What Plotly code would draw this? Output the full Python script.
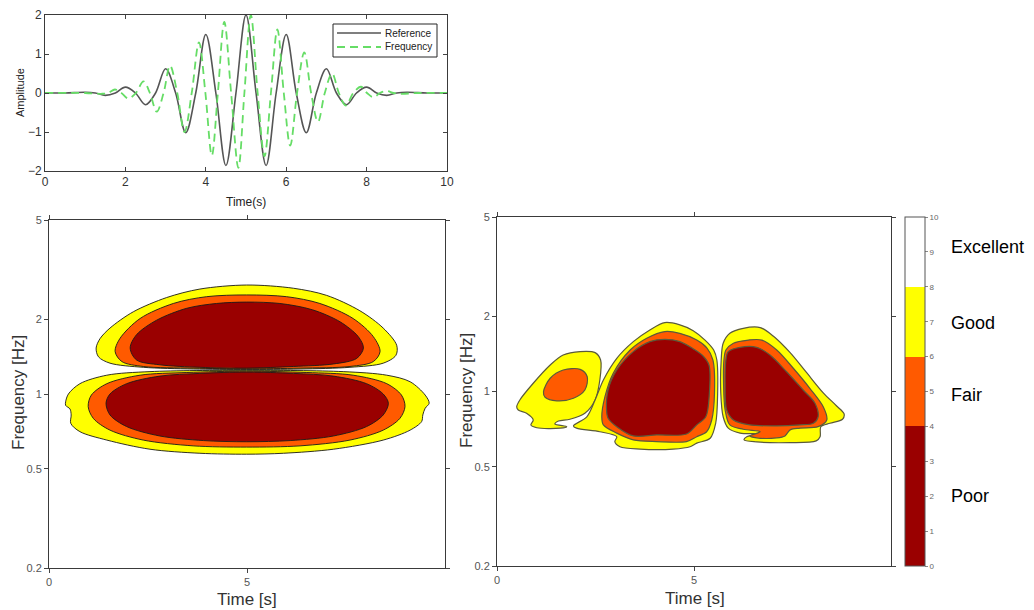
import plotly.graph_objects as go

# ---------------- data ----------------
# top panel: time signals
ref_t = [0, 0.5, 1.0, 1.25, 1.5, 1.75, 2.0, 2.25, 2.5, 2.75, 3.0, 3.25, 3.5, 3.75, 4.0, 4.25, 4.5, 4.75,
         5.0, 5.25, 5.5, 5.75, 6.0, 6.25, 6.5, 6.75, 7.0, 7.25, 7.5, 7.75, 8.0, 8.25, 8.5, 8.75, 9.0, 9.5, 10]
ref_a = [0, 0, 0.02, 0, -0.06, 0, 0.15, 0, -0.30, 0, 0.62, 0, -1.02, 0, 1.50, 0, -1.86, 0,
         2.00, 0, -1.86, 0, 1.50, 0, -1.02, 0, 0.62, 0, -0.30, 0, 0.15, 0, -0.06, 0, 0.02, 0, 0]
freq_t = [0, 1.0, 1.40, 1.57, 1.74, 1.90, 2.07, 2.26, 2.45, 2.61, 2.78, 2.95, 3.11, 3.29, 3.47, 3.65,
          3.83, 3.99, 4.15, 4.30, 4.46, 4.63, 4.81, 4.96, 5.12, 5.29, 5.46, 5.62, 5.78, 5.94, 6.10,
          6.27, 6.45, 6.62, 6.79, 6.96, 7.14, 7.31, 7.48, 7.67, 7.86, 8.01, 8.17, 8.33, 8.50, 8.67,
          8.85, 9.3, 10]
freq_a = [0, 0, -0.02, 0, 0.09, 0, -0.14, 0, 0.30, 0, -0.48, 0, 0.70, 0, -1.00, 0,
          1.30, 0, -1.60, 0, 1.82, 0, -1.92, 0, 2.00, 0, -1.62, 0, 1.63, 0, -1.35,
          0, 1.04, 0, -0.74, 0, 0.50, 0, -0.32, 0, 0.16, 0, -0.11, 0, 0.05, 0,
          -0.02, 0, 0]
series_names = ["Reference", "Frequency"]

# left panel contour boundaries (time [s], frequency [Hz])
a_top_good_t = [1.19, 1.29, 1.54, 2.13, 2.97, 3.81, 4.99, 6.17, 7.01, 7.85, 8.44, 8.78, 8.76, 8.44, 7.60, 6.34, 4.99, 3.64, 2.38, 1.54, 1.25]
a_top_good_f = [1.53, 1.67, 1.84, 2.14, 2.44, 2.64, 2.74, 2.66, 2.49, 2.16, 1.84, 1.57, 1.43, 1.33, 1.28, 1.26, 1.255, 1.26, 1.28, 1.33, 1.41]
a_top_fair_t = [1.67, 1.79, 2.30, 3.14, 3.98, 4.99, 6.00, 6.84, 7.68, 8.19, 8.36, 8.19, 7.60, 6.34, 4.99, 3.64, 2.38, 1.84]
a_top_fair_f = [1.48, 1.67, 2.01, 2.31, 2.46, 2.50, 2.46, 2.31, 2.01, 1.70, 1.48, 1.35, 1.29, 1.27, 1.262, 1.27, 1.29, 1.35]
a_top_poor_t = [2.05, 2.21, 2.72, 3.48, 4.23, 4.99, 5.83, 6.65, 7.35, 7.81, 7.94, 7.77, 7.18, 6.17, 4.99, 3.81, 2.80, 2.21]
a_top_poor_f = [1.53, 1.73, 1.98, 2.21, 2.31, 2.34, 2.31, 2.18, 1.95, 1.70, 1.53, 1.39, 1.32, 1.29, 1.27, 1.28, 1.31, 1.37]
a_bot_good_t = [0.42, 0.49, 0.78, 1.46, 2.55, 4.99, 7.43, 8.53, 9.12, 9.50, 9.60, 9.50, 9.44, 9.41, 9.12, 8.44, 7.18, 5.92, 4.99, 3.81, 2.55, 1.46, 0.78, 0.55, 0.56, 0.53, 0.42]
a_bot_good_f = [0.93, 1.00, 1.10, 1.19, 1.23, 1.245, 1.23, 1.19, 1.12, 0.99, 0.918, 0.877, 0.824, 0.775, 0.716, 0.653, 0.600, 0.578, 0.573, 0.578, 0.600, 0.653, 0.706, 0.762, 0.824, 0.871, 0.90]
a_bot_fair_t = [0.99, 1.07, 1.46, 2.30, 3.48, 4.99, 6.51, 7.68, 8.53, 8.90, 8.99, 8.86, 8.44, 7.60, 6.34, 4.99, 3.64, 2.38, 1.54, 1.12]
a_bot_fair_f = [0.89, 0.99, 1.10, 1.19, 1.22, 1.235, 1.22, 1.19, 1.10, 0.99, 0.89, 0.798, 0.716, 0.653, 0.619, 0.612, 0.619, 0.653, 0.716, 0.798]
a_bot_poor_t = [1.44, 1.54, 1.96, 2.80, 3.81, 4.99, 6.17, 7.18, 8.02, 8.44, 8.57, 8.44, 8.02, 7.18, 6.09, 4.99, 3.90, 2.80, 1.96, 1.54]
a_bot_poor_f = [0.918, 1.00, 1.10, 1.18, 1.21, 1.225, 1.21, 1.18, 1.10, 1.00, 0.918, 0.824, 0.74, 0.678, 0.650, 0.643, 0.650, 0.678, 0.74, 0.824]

# right panel contour boundaries (time [s], frequency [Hz])
b1_good_t = [0.50, 0.58, 0.92, 1.35, 1.68, 2.11, 2.49, 2.63, 2.61, 2.49, 2.23, 1.85, 1.56, 1.47, 1.77, 1.60, 1.01, 0.86, 0.92, 0.75, 0.54]
b1_good_f = [0.869, 0.925, 1.079, 1.277, 1.400, 1.445, 1.431, 1.337, 1.112, 0.925, 0.818, 0.774, 0.762, 0.741, 0.723, 0.713, 0.716, 0.735, 0.769, 0.818, 0.843]
b1_fair_t = [1.18, 1.35, 1.68, 2.11, 2.29, 2.23, 1.94, 1.52, 1.22]
b1_fair_f = [0.998, 1.130, 1.219, 1.227, 1.146, 1.014, 0.940, 0.918, 0.948]
b2_good_t = [1.94, 2.28, 2.49, 2.70, 3.04, 3.46, 3.88, 4.26, 4.64, 4.98, 5.28, 5.50, 5.58, 5.60, 5.55, 5.41, 5.07, 4.90, 4.47, 3.63, 3.12, 2.99, 3.04, 2.61, 2.02]
b2_good_f = [0.728, 0.792, 0.925, 1.112, 1.358, 1.584, 1.765, 1.888, 1.849, 1.753, 1.607, 1.466, 1.337, 0.984, 0.746, 0.650, 0.621, 0.601, 0.588, 0.588, 0.601, 0.630, 0.659, 0.690, 0.713]
b2_fair_t = [2.66, 2.74, 2.95, 3.38, 3.80, 4.26, 4.64, 5.07, 5.33, 5.48, 5.52, 5.45, 5.32, 5.07, 4.81, 4.05, 3.46, 3.04, 2.70]
b2_fair_f = [0.792, 0.953, 1.183, 1.466, 1.634, 1.738, 1.710, 1.607, 1.493, 1.337, 0.984, 0.769, 0.690, 0.659, 0.630, 0.630, 0.640, 0.681, 0.735]
b2_poor_t = [2.78, 2.82, 3.04, 3.46, 3.88, 4.26, 4.64, 5.03, 5.23, 5.38, 5.39, 5.30, 5.07, 4.81, 4.05, 3.46, 3.04, 2.82]
b2_poor_f = [0.843, 1.014, 1.219, 1.445, 1.584, 1.618, 1.584, 1.466, 1.387, 1.277, 0.984, 0.792, 0.735, 0.676, 0.670, 0.664, 0.723, 0.782]
b3_good_t = [5.69, 5.74, 5.91, 6.25, 6.68, 7.01, 7.44, 7.86, 8.28, 8.62, 8.81, 8.77, 8.45, 8.22, 8.20, 8.10, 7.44, 6.59, 6.27, 6.34, 6.63, 6.17, 5.87, 5.74, 5.68]
b3_good_f = [1.337, 1.560, 1.710, 1.791, 1.803, 1.668, 1.431, 1.189, 0.988, 0.875, 0.813, 0.774, 0.746, 0.723, 0.659, 0.634, 0.624, 0.628, 0.640, 0.659, 0.676, 0.681, 0.713, 0.792, 0.984]
b3_fair_t = [5.76, 5.81, 6.00, 6.38, 6.72, 7.10, 7.52, 7.94, 8.28, 8.37, 8.15, 7.69, 7.44, 7.31, 7.10, 6.59, 6.42, 6.68, 6.25, 5.91, 5.79, 5.75]
b3_fair_f = [1.337, 1.466, 1.560, 1.607, 1.607, 1.466, 1.239, 1.030, 0.869, 0.769, 0.723, 0.713, 0.702, 0.664, 0.652, 0.652, 0.664, 0.690, 0.706, 0.735, 0.843, 1.079]
b3_poor_t = [5.81, 5.87, 6.17, 6.59, 6.93, 7.35, 7.77, 8.07, 8.15, 8.03, 7.69, 7.10, 6.42, 6.00, 5.83, 5.79]
b3_poor_f = [1.337, 1.445, 1.503, 1.503, 1.400, 1.200, 1.014, 0.898, 0.792, 0.746, 0.735, 0.728, 0.735, 0.769, 0.843, 1.079]

# colour levels
cb_levels = [0, 4, 6, 8, 10]
cb_colors = ["#9a0000", "#ff5a00", "#ffff00", "#ffffff"]
cb_ticks = list(range(0, 11))
quality_labels = ["Poor", "Fair", "Good", "Excellent"]
freq_ticks = [0.2, 0.5, 1, 2, 5]
freq_minor = [0.3, 0.4, 0.6, 0.7, 0.8, 0.9, 3, 4]

left_shapes = [(a_top_good_t, a_top_good_f, 2), (a_top_fair_t, a_top_fair_f, 1), (a_top_poor_t, a_top_poor_f, 0),
               (a_bot_good_t, a_bot_good_f, 2), (a_bot_fair_t, a_bot_fair_f, 1), (a_bot_poor_t, a_bot_poor_f, 0)]
right_shapes = [(b1_good_t, b1_good_f, 2), (b1_fair_t, b1_fair_f, 1),
                (b2_good_t, b2_good_f, 2), (b2_fair_t, b2_fair_f, 1), (b2_poor_t, b2_poor_f, 0),
                (b3_good_t, b3_good_f, 2), (b3_fair_t, b3_fair_f, 1), (b3_poor_t, b3_poor_f, 0)]

FONT = "Liberation Sans, Arial, sans-serif"
W, H = 1034, 610
OFF = 8  # page body margin in which the figure is placed

def px(x):
    return (x - OFF) / W

def py(y):
    return 1 - (y - OFF) / H

fig = go.Figure()

REF_LINE = dict(color="#555555", width=1.6)
FREQ_LINE = dict(color="#66dd66", width=1.8, dash="8px,5px")

# top panel
fig.add_trace(go.Scatter(x=ref_t, y=ref_a, mode="lines", name=series_names[0], showlegend=False,
                         line=dict(shape="spline", smoothing=1.0, **REF_LINE),
                         xaxis="x", yaxis="y"))
fig.add_trace(go.Scatter(x=freq_t, y=freq_a, mode="lines", name=series_names[1], showlegend=False,
                         line=dict(shape="spline", smoothing=1.0, **FREQ_LINE),
                         xaxis="x", yaxis="y"))

def add_shapes(shapes, xa, ya, outline, lw):
    for t, f, lev in shapes:
        fig.add_trace(go.Scatter(x=t + t[:1], y=f + f[:1], mode="lines", fill="toself",
                                 fillcolor=cb_colors[lev],
                                 line=dict(color=outline, width=lw, shape="spline", smoothing=0.9),
                                 hoverinfo="skip", showlegend=False, xaxis=xa, yaxis=ya))

add_shapes(left_shapes, "x2", "y2", "#1a1a1a", 0.9)
add_shapes(right_shapes, "x3", "y4", "#5a5a3c", 1.2)

# colour bar (dummy heatmap outside the visible range)
cs = []
for i, c in enumerate(cb_colors):
    cs.append([cb_levels[i] / 10, c])
    cs.append([cb_levels[i + 1] / 10, c])
fig.add_trace(go.Heatmap(x=[20, 21], y=[0.05], z=[[0, 10]], zmin=0, zmax=10, colorscale=cs,
                         xaxis="x3", yaxis="y4", hoverinfo="skip",
                         colorbar=dict(x=px(905), xanchor="left", y=py(391.5), yanchor="middle",
                                       len=349 / H, lenmode="fraction", thickness=20,
                                       tickvals=cb_ticks, ticks="outside", ticklen=3,
                                       tickcolor="#888888", tickfont=dict(size=8, color="#666666", family=FONT),
                                       outlinewidth=1, outlinecolor="#555555", xpad=0, ypad=0)))

axis_common = dict(showgrid=False, zeroline=False, showline=True, linecolor="#3a3a3a", linewidth=1,
                   automargin=False)

log_rng = [-0.69897, 0.69897]
fig.update_layout(
    width=W, height=H, margin=dict(l=0, r=0, t=0, b=0, autoexpand=False),
    paper_bgcolor="white", plot_bgcolor="white",
    font=dict(family=FONT, color="#333333"),
    showlegend=False,
    xaxis=dict(domain=[px(45), px(447)], anchor="y", range=[0, 10], tickvals=[0, 2, 4, 6, 8, 10],
               ticks="inside", ticklen=4, mirror="allticks", tickfont=dict(size=12, color="#333333"),
               **axis_common),
    yaxis=dict(domain=[py(171), py(15)], anchor="x", range=[-2, 2], tickvals=[-2, -1, 0, 1, 2],
               ticks="inside", ticklen=4, mirror="allticks", tickfont=dict(size=12, color="#333333"),
               **axis_common),
    xaxis2=dict(domain=[px(49), px(445)], anchor="y2", range=[0, 10], tickvals=[0, 5],
                ticks="outside", ticklen=4, mirror="ticks", tickfont=dict(size=11, color="#555555"),
                **axis_common),
    yaxis2=dict(domain=[py(568), py(220)], anchor="x2", type="log", range=log_rng, tickvals=freq_ticks,
                ticktext=[str(v) for v in freq_ticks],
                ticks="outside", ticklen=4, mirror="ticks", tickfont=dict(size=11, color="#555555"),
                **axis_common),
    yaxis3=dict(overlaying="y2", anchor="x2", side="right", type="log", range=log_rng,
                tickvals=freq_minor, showticklabels=False, ticks="outside", ticklen=4,
                showgrid=False, zeroline=False, showline=False, tickcolor="#3a3a3a", automargin=False),
    xaxis3=dict(domain=[px(497), px(891)], anchor="y4", range=[0, 10], tickvals=[0, 5],
                ticks="outside", ticklen=4, mirror="ticks", tickfont=dict(size=11, color="#555555"),
                **axis_common),
    yaxis4=dict(domain=[py(566), py(217)], anchor="x3", type="log", range=log_rng, tickvals=freq_ticks,
                ticktext=[str(v) for v in freq_ticks],
                ticks="outside", ticklen=4, mirror="ticks", tickfont=dict(size=11, color="#555555"),
                **axis_common),
    yaxis5=dict(overlaying="y4", anchor="x3", side="right", type="log", range=log_rng,
                tickvals=freq_minor, showticklabels=False, ticks="outside", ticklen=4,
                showgrid=False, zeroline=False, showline=False, tickcolor="#3a3a3a", automargin=False),
)

# legend box of the top panel (drawn with paper-referenced shapes and text)
fig.add_shape(type="rect", xref="paper", yref="paper", x0=px(333), x1=px(437), y0=py(57), y1=py(24),
              line=dict(color="#262626", width=1), fillcolor="white", layer="above")
fig.add_shape(type="line", xref="paper", yref="paper", x0=px(337), x1=px(381), y0=py(33), y1=py(33),
              line=REF_LINE, layer="above")
fig.add_shape(type="line", xref="paper", yref="paper", x0=px(337), x1=px(381), y0=py(47), y1=py(47),
              line=FREQ_LINE, layer="above")
for name, yy in zip(series_names, [33, 47]):
    fig.add_annotation(text=name, x=px(383), y=py(yy), xref="paper", yref="paper",
                       xanchor="left", yanchor="middle", showarrow=False,
                       font=dict(size=10, color="#222222", family=FONT))

ann = [
    dict(text="Time(s)", x=px(246), y=py(202), size=12, angle=0, color="#222222"),
    dict(text="Amplitude", x=px(20), y=py(93), size=11, angle=-90, color="#222222"),
    dict(text="Frequency [Hz]", x=px(18), y=py(393), size=17, angle=-90, color="#333333"),
    dict(text="Frequency [Hz]", x=px(466), y=py(391), size=17, angle=-90, color="#333333"),
    dict(text="Time [s]", x=px(247), y=py(599), size=17, angle=0, color="#333333"),
    dict(text="Time [s]", x=px(695), y=py(598), size=17, angle=0, color="#333333"),
]
for a in ann:
    fig.add_annotation(text=a["text"], x=a["x"], y=a["y"], xref="paper", yref="paper",
                       xanchor="center", yanchor="middle", showarrow=False, textangle=a["angle"],
                       font=dict(size=a["size"], color=a["color"], family=FONT))

label_y = [496, 395, 323, 247]
for lab, yy in zip(quality_labels, label_y):
    fig.add_annotation(text=lab, x=px(949), y=py(yy), xref="paper", yref="paper",
                       xanchor="left", yanchor="middle", showarrow=False,
                       font=dict(size=18, color="#000000", family=FONT))

fig.write_html("out.html")
